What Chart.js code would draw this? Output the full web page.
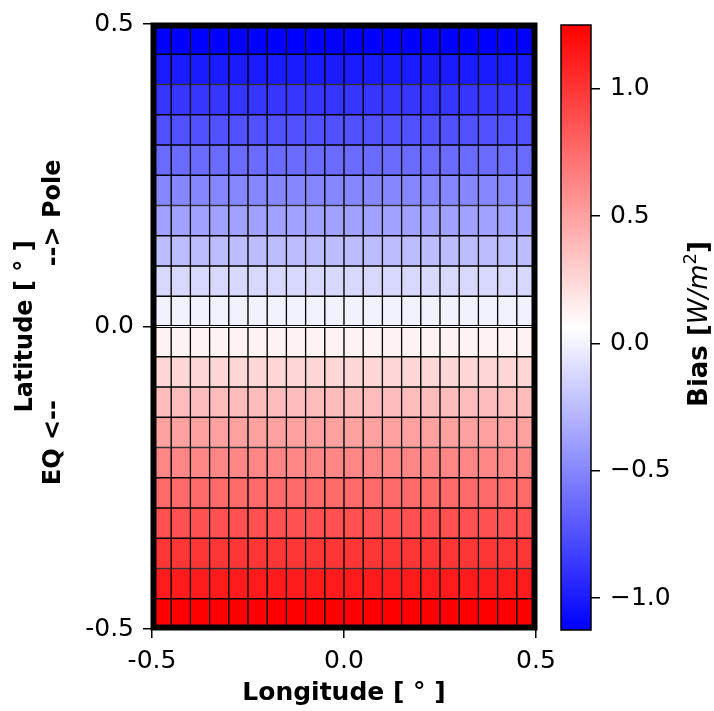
<!DOCTYPE html>
<html>
<head>
<meta charset="utf-8">
<script src="https://cdn.jsdelivr.net/npm/chart.js@4/dist/chart.umd.min.js"></script>
<style>
	body { margin: 0; background: #fff; }
	#wrap { position: relative; width: 714px; height: 711px; }
	#main { position: absolute; left: 0; top: 0; }
	#cbar { position: absolute; left: 540px; top: 0; }
</style>
</head>
<body>
<div id="wrap">
	<canvas id="main" width="714" height="711"></canvas>
	<canvas id="cbar" width="174" height="711"></canvas>
</div>
<script>
// grid cells: longitude centres, latitude edges (top to bottom), bias per row
let lonCenters = [-0.475, -0.425, -0.375, -0.325, -0.275, -0.225, -0.175, -0.125, -0.075, -0.025,
	0.025, 0.075, 0.125, 0.175, 0.225, 0.275, 0.325, 0.375, 0.425, 0.475]
let latEdges = [0.5, 0.45, 0.4, 0.35, 0.3, 0.25, 0.2, 0.15, 0.1, 0.05, 0.0,
	-0.05, -0.1, -0.15, -0.2, -0.25, -0.3, -0.35, -0.4, -0.45, -0.5]
let rowBias = [-1.125, -1.0, -0.875, -0.75, -0.625, -0.5, -0.375, -0.25, -0.125, 0.0,
	0.125, 0.25, 0.375, 0.5, 0.625, 0.75, 0.875, 1.0, 1.125, 1.25]

let lonTicks = [-0.5, 0.0, 0.5]
let latTicks = [-0.5, 0.0, 0.5]
let cbTicks = [-1.0, -0.5, 0.0, 0.5, 1.0]
let biasMin = -1.125
let biasMax = 1.25

Chart.defaults.font.family = 'DejaVu Sans'
Chart.defaults.color = '#000'

// matplotlib 'bwr'
function bwr(v) {
	let t = (v - biasMin) / (biasMax - biasMin)
	t = Math.max(0, Math.min(1, t))
	let r, g, b
	if (t < 0.5) { r = g = Math.round(510 * t); b = 255 }
	else { r = 255; g = b = Math.round(510 * (1 - t)) }
	return `rgb(${r},${g},${b})`
}

let datasets = []
for (let i = 0; i < rowBias.length; i++) {
	datasets.push({
		data: lonCenters.map(x => ({x: x, y: [latEdges[i + 1], latEdges[i]]})),
		backgroundColor: bwr(rowBias[i]),
		borderColor: '#000',
		borderWidth: 1,
		borderSkipped: false,
		barPercentage: 1,
		categoryPercentage: 1,
		grouped: false
	})
}

const frame = {
	id: 'frame',
	afterDatasetsDraw(chart) {
		let a = chart.chartArea, ctx = chart.ctx
		ctx.save()
		ctx.strokeStyle = '#000'
		ctx.lineWidth = 6
		ctx.strokeRect(a.left + 1.5, a.top + 1.5, a.right - a.left - 3, a.bottom - a.top - 3)
		ctx.restore()
	}
}

function axisOpts(ticks, min, max) {
	return {
		type: 'linear', min: min, max: max, offset: false,
		afterBuildTicks: s => { s.ticks = ticks.map(v => ({value: v})) },
		grid: { drawOnChartArea: false, offset: false, color: '#000', lineWidth: 1.5, tickLength: 9 },
		border: { display: true, color: '#000', width: 1 },
		ticks: { font: {size: 25}, padding: 8, callback: v => v.toFixed(1) }
	}
}

let xOpts = axisOpts(lonTicks, -0.5, 0.5)
xOpts.afterFit = s => { s.height = 82 }
xOpts.title = { display: true, text: 'Longitude [ ° ]', font: {size: 25, weight: 'bold'}, padding: {top: 0, bottom: 3} }
let yOpts = axisOpts(latTicks, -0.5, 0.5)
yOpts.afterFit = s => { s.width = 152 }
yOpts.ticks.padding = 9
yOpts.title = { display: true, text: ['Latitude [ ° ]', ' EQ <--                --> Pole'], font: {size: 24, weight: 'bold'}, padding: {top: 11, bottom: 0} }

new Chart('main', {
	type: 'bar',
	data: { datasets: datasets },
	options: {
		responsive: false, animation: false,
		layout: { padding: {top: 21, right: 178, bottom: 0, left: 0} },
		plugins: { legend: {display: false}, tooltip: {enabled: false} },
		scales: { x: xOpts, y: yOpts }
	},
	plugins: [frame]
})

// colorbar
const cbarDeco = {
	id: 'cbarDeco',
	afterDraw(chart) {
		let a = chart.chartArea, ctx = chart.ctx
		ctx.save()
		ctx.strokeStyle = '#000'
		ctx.lineWidth = 1.5
		ctx.strokeRect(a.left, a.top, a.right - a.left, a.bottom - a.top)
		// label "Bias [W/m^2]" reading upward
		let parts = [
			{t: 'Bias [', f: 'bold 26px "DejaVu Sans"', dy: 0},
			{t: 'W/m', f: 'oblique 26px "DejaVu Sans"', dy: 0},
			{t: '2', f: '18px "DejaVu Sans"', dy: -11},
			{t: ']', f: 'bold 26px "DejaVu Sans"', dy: 0}
		]
		let total = 0
		for (let p of parts) { ctx.font = p.f; p.w = ctx.measureText(p.t).width; total += p.w }
		ctx.translate(158, 324)
		ctx.rotate(-Math.PI / 2)
		ctx.fillStyle = '#000'
		ctx.textBaseline = 'alphabetic'
		let x = -total / 2
		for (let p of parts) { ctx.font = p.f; ctx.fillText(p.t, x, 9 + p.dy); x += p.w }
		ctx.restore()
	}
}

new Chart('cbar', {
	type: 'bar',
	data: {
		labels: [''],
		datasets: [{
			data: [[biasMin, biasMax]],
			backgroundColor: c => {
				let a = c.chart.chartArea
				if (!a) return 'white'
				let g = c.chart.ctx.createLinearGradient(0, a.bottom, 0, a.top)
				g.addColorStop(0, bwr(biasMin))
				g.addColorStop(0.5, bwr((biasMin + biasMax) / 2))
				g.addColorStop(1, bwr(biasMax))
				return g
			},
			borderWidth: 0,
			barPercentage: 1,
			categoryPercentage: 1
		}]
	},
	options: {
		responsive: false, animation: false,
		layout: { padding: {top: 21, right: 0, bottom: 81, left: 21} },
		plugins: { legend: {display: false}, tooltip: {enabled: false} },
		scales: {
			x: { display: false },
			y: {
				position: 'right', min: biasMin, max: biasMax,
				afterBuildTicks: s => { s.ticks = cbTicks.map(v => ({value: v})) },
				afterFit: s => { s.width = 123 },
				grid: { drawOnChartArea: false, color: '#000', lineWidth: 1.5, tickLength: 9 },
				border: { display: false },
				ticks: { font: {size: 25}, padding: 10, callback: v => v.toFixed(1).replace('-', '\u2212') }
			}
		}
	},
	plugins: [cbarDeco]
})
</script>
</body>
</html>
